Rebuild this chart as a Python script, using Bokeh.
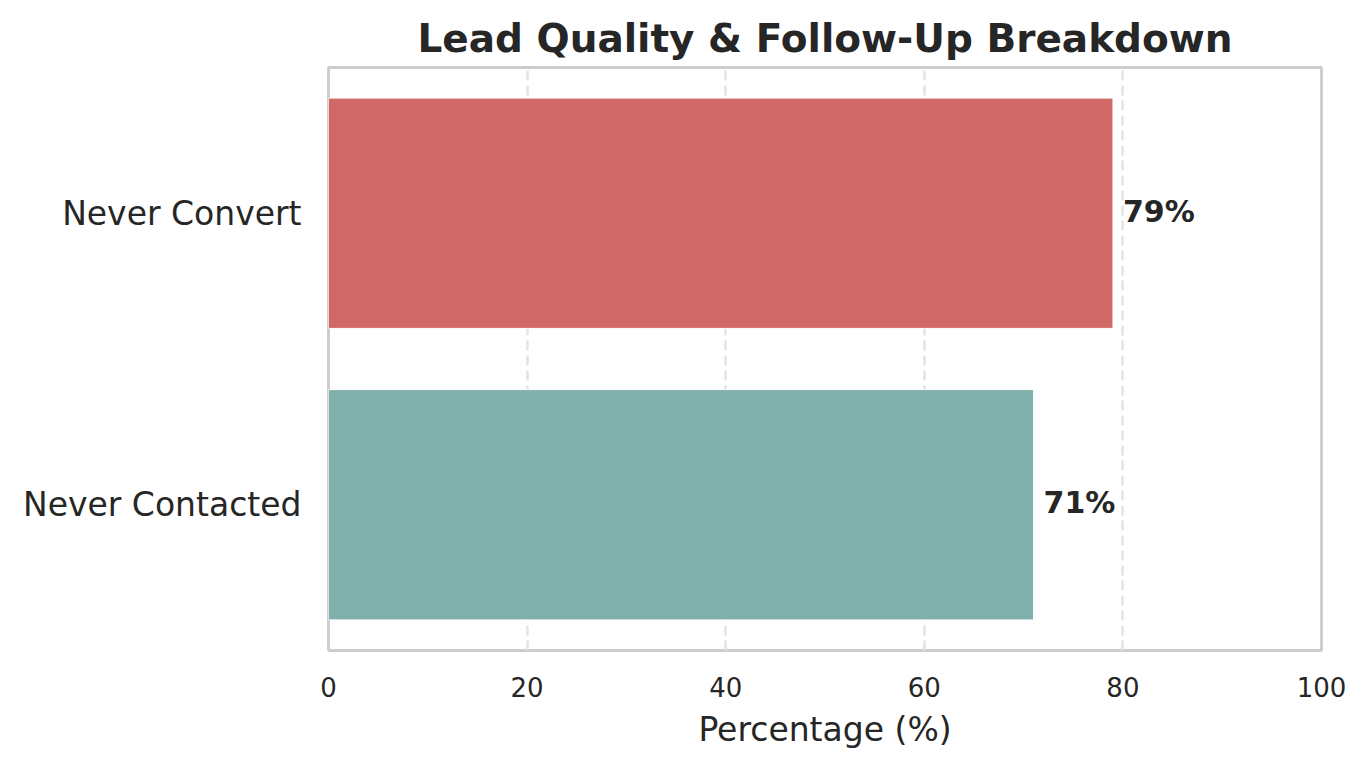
from bokeh.plotting import figure
from bokeh.models import ColumnDataSource, FactorRange, Range1d, FixedTicker
from bokeh.embed import file_html
from bokeh.resources import INLINE
from bokeh.core.properties import value

categories = ["Never Convert", "Never Contacted"]
percentages = [79, 71]
colors = ["#d06868", "#80b0ac"]
labels = ["79%", "71%"]
x_ticks = [0, 20, 40, 60, 80, 100]

source = ColumnDataSource(dict(cat=categories, pct=percentages, color=colors, label=labels))

p = figure(width=1352, height=760, output_backend="svg", toolbar_location=None,
           y_range=FactorRange(factors=categories[::-1], range_padding=0),
           x_range=Range1d(0, 100),
           min_border_left=328, min_border_right=31, min_border_bottom=110, min_border_top=67)

p.hbar(y="cat", right="pct", left=0, height=0.79, color="color", line_color="white",
       line_width=1, source=source)
p.text(x="pct", y="cat", text="label", x_offset=10, y_offset=-2, text_baseline="middle",
       text_align="left", text_font=value("DejaVu Sans"), text_font_style="bold",
       text_font_size="30px", text_color="#262626", source=source)

p.title.text = "Lead Quality & Follow-Up Breakdown"
p.title.align = "center"
p.title.text_font = "DejaVu Sans"
p.title.text_font_size = "39px"
p.title.text_font_style = "bold"
p.title.text_color = "#262626"
p.title.standoff = 14

p.outline_line_color = "#cccccc"
p.outline_line_width = 2.8

p.xaxis.ticker = FixedTicker(ticks=x_ticks)
p.xaxis.axis_label = "Percentage (%)"
p.xaxis.axis_label_text_font = "DejaVu Sans"
p.xaxis.axis_label_text_font_size = "33px"
p.xaxis.axis_label_text_font_style = "normal"
p.xaxis.axis_label_text_color = "#262626"
p.xaxis.axis_label_standoff = 10
p.xaxis.major_label_text_font = "DejaVu Sans"
p.xaxis.major_label_text_font_size = "26px"
p.xaxis.major_label_text_color = "#262626"
p.xaxis.major_label_standoff = 26

p.yaxis.major_label_text_font = "DejaVu Sans"
p.yaxis.major_label_text_font_size = "33px"
p.yaxis.major_label_text_color = "#262626"
p.yaxis.major_label_standoff = 27

for ax in (p.xaxis, p.yaxis):
    ax.axis_line_color = None
    ax.major_tick_line_color = None
    ax.minor_tick_line_color = None
    ax.major_tick_out = 0
    ax.major_tick_in = 0

p.ygrid.grid_line_color = None
p.xgrid.grid_line_color = "#e3e3e3"
p.xgrid.grid_line_width = 2.5
p.xgrid.grid_line_dash = "10 5"

p.background_fill_color = "white"
p.border_fill_color = "white"

open("out.html", "w").write(file_html(p, INLINE))
